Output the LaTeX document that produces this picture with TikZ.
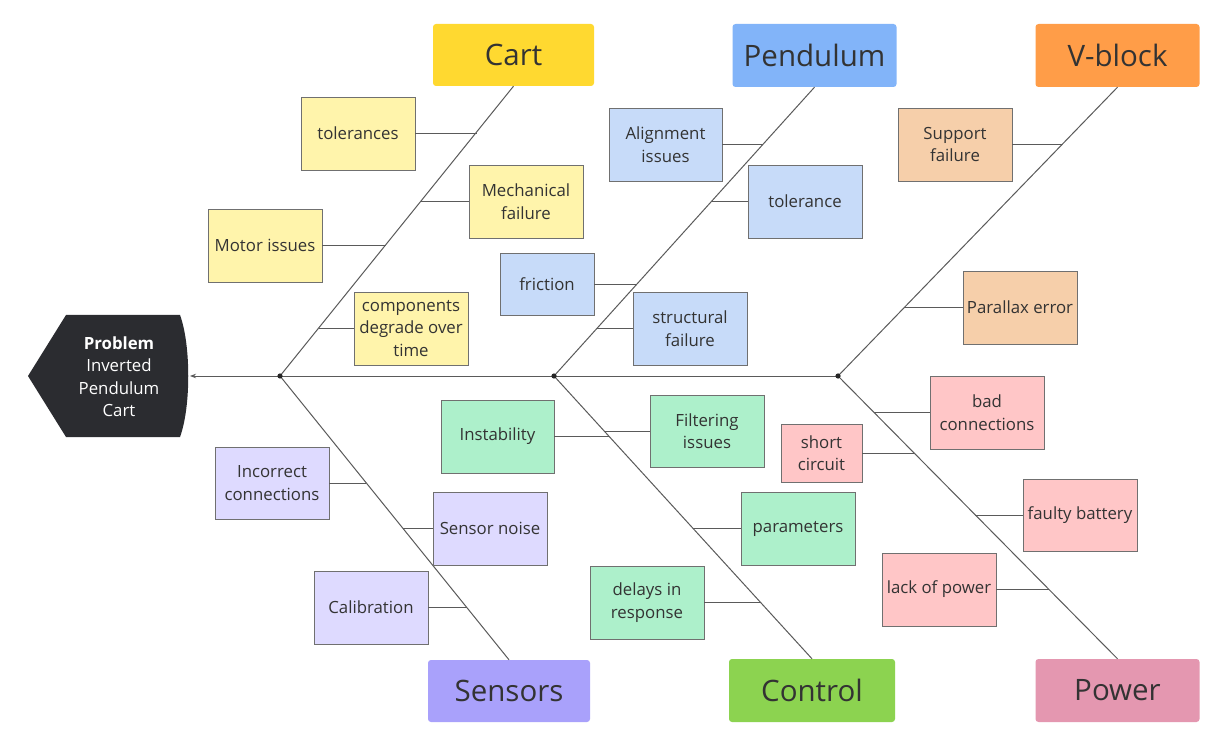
\documentclass[tikz,border=0pt]{standalone}
\usepackage{fontspec}
\setmainfont{Open Sans}
\usetikzlibrary{arrows.meta}

\definecolor{inkdark}{HTML}{333333}
\definecolor{headfill}{HTML}{2B2C30}
\definecolor{linegray}{HTML}{5A5A5A}
\definecolor{boxline}{HTML}{707070}
% category header colours
\definecolor{cartH}{HTML}{FFD930}
\definecolor{pendH}{HTML}{82B4F9}
\definecolor{vblkH}{HTML}{FF9D48}
\definecolor{sensH}{HTML}{A9A1FB}
\definecolor{ctrlH}{HTML}{8CD350}
\definecolor{powrH}{HTML}{E497B0}
% cause box colours
\definecolor{cartC}{HTML}{FFF4AB}
\definecolor{pendC}{HTML}{C7DBF9}
\definecolor{vblkC}{HTML}{F6CFAA}
\definecolor{sensC}{HTML}{DEDAFF}
\definecolor{ctrlC}{HTML}{ADF0CB}
\definecolor{powrC}{HTML}{FFC6C7}

\tikzset{
  category/.style={rounded corners=3pt, minimum width=164pt, minimum height=63pt,
    inner sep=0pt, text=inkdark, font=\fontsize{29.5}{34}\selectfont},
  cause/.style={draw=boxline, line width=0.9pt, minimum width=114pt, minimum height=73pt,
    inner sep=0pt, align=center, text=inkdark, font=\fontsize{16.8}{22.5}\selectfont},
  bone/.style={draw=linegray, line width=1pt},
  twig/.style={draw=linegray, line width=0.9pt},
  joint/.style={fill=black!85},
}

\begin{document}
\begin{tikzpicture}[x=1pt,y=-1pt]
\useasboundingbox (0,0) rectangle (1210,735);
\fill[white] (0,0) rectangle (1210,735);

% problem head
\fill[headfill] (28,376) -- (66,315) -- (180,315)
  .. controls (191,345) and (191,407) .. (180,437) -- (66,437) -- cycle;
\node[text=white, align=center, font=\fontsize{16.8}{22.5}\selectfont] (head) at (119,376.5)
  {\textbf{Problem}\\Inverted\\Pendulum\\Cart};
\coordinate (tip) at (190,376);

% category headers
\node[category, fill=cartH, minimum width=161pt, minimum height=62pt] (cart) at (513.5,55) {Cart};
\node[category, fill=pendH] (pend) at (814.5,55.5) {Pendulum};
\node[category, fill=vblkH] (vblk) at (1117.5,55.5) {V-block};
\node[category, fill=sensH, minimum width=162pt, minimum height=62pt] (sens) at (509,691) {Sensors};
\node[category, fill=ctrlH, minimum width=166pt] (ctrl) at (812,690.5) {Control};
\node[category, fill=powrH] (powr) at (1117.5,690.5) {Power};

% spine and joints
\coordinate (j1) at (280,376);
\coordinate (j2) at (554,376);
\coordinate (j3) at (838,376);
\draw[bone, -{Stealth[length=6pt,width=4.5pt]}] (j3) -- (tip);
\draw[bone] (j1) -- (cart.south);
\draw[bone] (j2) -- (pend.south);
\draw[bone] (j3) -- (vblk.south);
\draw[bone] (j1) -- (sens.north);
\draw[bone] (j2) -- (ctrl.north);
\draw[bone] (j3) -- (powr.north);
\foreach \j in {j1,j2,j3} \fill[joint] (\j) circle (2.6pt);

% Cart causes
\node[cause, fill=cartC] (c1) at (358,133.5) {tolerances};
\node[cause, fill=cartC] (c2) at (526,201.5) {Mechanical\\failure};
\node[cause, fill=cartC] (c3) at (265,245.5) {Motor issues};
\node[cause, fill=cartC] (c4) at (411,328.5) {components\\degrade over\\time};
\coordinate (b1) at (476.5,133.5);
\coordinate (b2) at (421.4,201.5);
\coordinate (b3) at (385.7,245.5);
\coordinate (b4) at (318.5,328.5);
\draw[twig] (c1.east) -- (b1);
\draw[twig] (c2.west) -- (b2);
\draw[twig] (c3.east) -- (b3);
\draw[twig] (c4.west) -- (b4);

% Pendulum causes
\node[cause, fill=pendC, minimum width=113pt] (p1) at (665.5,144.5) {Alignment\\issues};
\node[cause, fill=pendC] (p2) at (805,201.5) {tolerance};
\node[cause, fill=pendC, minimum width=94pt, minimum height=62pt] (p3) at (547,284) {friction};
\node[cause, fill=pendC] (p4) at (690,328.5) {structural\\failure};
\coordinate (q1) at (763.1,144.5);
\coordinate (q2) at (711.6,201.5);
\coordinate (q3) at (637.1,284);
\coordinate (q4) at (596.9,328.5);
\draw[twig] (p1.east) -- (q1);
\draw[twig] (p2.west) -- (q2);
\draw[twig] (p3.east) -- (q3);
\draw[twig] (p4.west) -- (q4);

% V-block causes
\node[cause, fill=vblkC] (v1) at (955,144.5) {Support\\failure};
\node[cause, fill=vblkC] (v2) at (1020,307.5) {Parallax error};
\coordinate (w1) at (1062.3,144.5);
\coordinate (w2) at (904.4,307.5);
\draw[twig] (v1.east) -- (w1);
\draw[twig] (v2.west) -- (w2);

% Sensors causes
\node[cause, fill=sensC, minimum height=72pt] (s1) at (272,483) {Incorrect\\connections};
\node[cause, fill=sensC] (s2) at (490,528.5) {Sensor noise};
\node[cause, fill=sensC] (s3) at (371,607.5) {Calibration};
\coordinate (t1) at (366.3,483);
\coordinate (t2) at (403.0,528.5);
\coordinate (t3) at (466.7,607.5);
\draw[twig] (s1.east) -- (t1);
\draw[twig] (s2.west) -- (t2);
\draw[twig] (s3.east) -- (t3);

% Control causes
\node[cause, fill=ctrlC, minimum width=113pt] (k1) at (497.5,436.5) {Instability};
\node[cause, fill=ctrlC, minimum height=72pt] (k2) at (707,431) {Filtering\\issues};
\node[cause, fill=ctrlC] (k3) at (798,528.5) {parameters};
\node[cause, fill=ctrlC] (k4) at (647,602.5) {delays in\\response};
\coordinate (m1) at (609.2,436.5);
\coordinate (m2) at (604.1,431);
\coordinate (m3) at (693.0,528.5);
\coordinate (m4) at (760.5,602.5);
\draw[twig] (k1.east) -- (m1);
\draw[twig] (k2.west) -- (m2);
\draw[twig] (k3.west) -- (m3);
\draw[twig] (k4.east) -- (m4);

% Power causes
\node[cause, fill=powrC] (e1) at (987,412.5) {bad\\connections};
\node[cause, fill=powrC, minimum width=81pt, minimum height=58pt] (e2) at (821.5,453) {short\\circuit};
\node[cause, fill=powrC, minimum height=72pt] (e3) at (1080,515) {faulty battery};
\node[cause, fill=powrC] (e4) at (939,589.5) {lack of power};
\coordinate (f1) at (874.0,412.5);
\coordinate (f2) at (914.0,453);
\coordinate (f3) at (975.3,515);
\coordinate (f4) at (1048.9,589.5);
\draw[twig] (e1.west) -- (f1);
\draw[twig] (e2.east) -- (f2);
\draw[twig] (e3.west) -- (f3);
\draw[twig] (e4.east) -- (f4);
\end{tikzpicture}
\end{document}
